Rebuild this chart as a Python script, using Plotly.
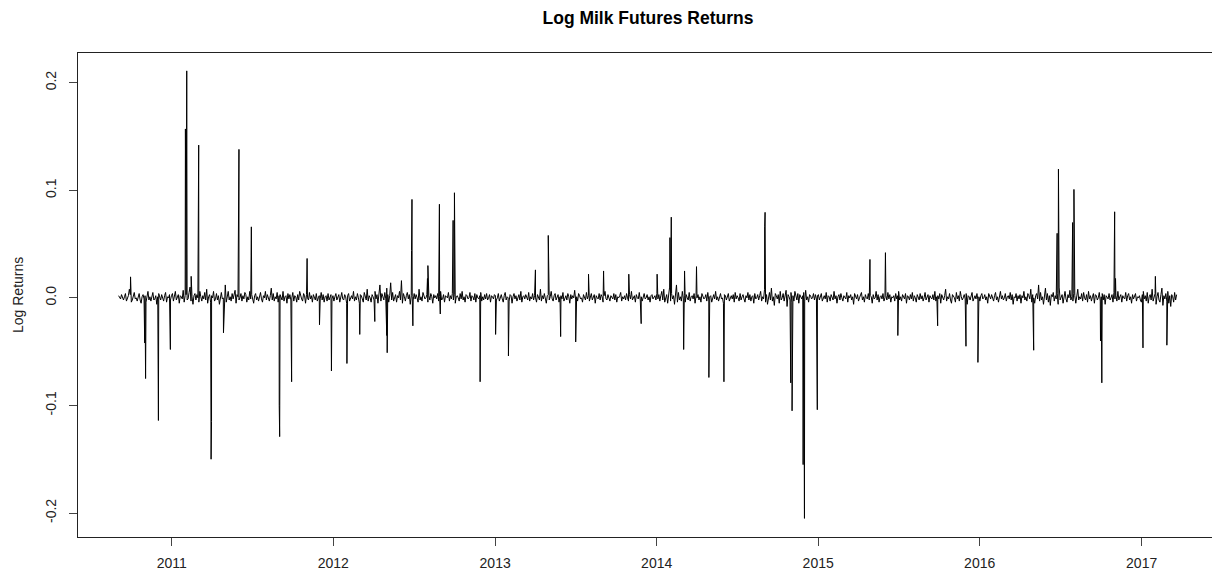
import pandas as pd
import plotly.graph_objects as go

# ---------------- data ----------------
title_text = "Log Milk Futures Returns"
y_title = "Log Returns"

series_start = "2010-09-03"
series_end = "2017-03-21"

# background day-to-day returns, in thousandths (estimated from the noise band)
noise_2010 = [2, 1, -1, 3, 0, -2, 1, 4, -3, -1, 2, 8, 3, -4, -2, 1, 5, -1, 0, -3, 2, 4, -2, -5, 1, 3, -1, 2,
              -4, 0, 6, -2, 1, -3, 3, 5, -2, -1, 2, -6, 1, 4, 0, -2, 3, -1, -3, 2, 5, -4, 1, 0, 3, -2, 2]
noise_2011 = [4, -3, 1, 6, -2, 0, 3, -5, 2, 1, -1, 7, -4, 2, 3, -2, -1, 5, 10, -3,
              1, -6, 2, 4, -2, 3, 0, -4, 6, 1, -3, 2, -1, 5, -2, 8, -5, 1, 3, -4,
              2, 0, 6, -3, -1, 4, -2, 2, -6, 3, 5, -1, 0, -3, 12, -4, 2, 6, -2, 1,
              -3, 4, -1, 2, 7, -5, 3, 1, -2, 0, 4, -3, 2, -1, 5, 3, -4, 1, -2, 6,
              -1, 3, 0, -5, 2, 4, -2, 1, -3, 3, 5, -1, -4, 2, 0, 6, -2, 3, -1, -3,
              2, 9, -2, 4, -3, 1, -1, 5, -4, 2, 3, 0, -2, 6, -3, 1, 2, -5, 4, -1,
              3, -2, 0, 5, -3, 2, 1, -4, 3, -2, 6, 1, -1, -3, 4, 2, -5, 3, 0, -2,
              5, -1, 2, -4, 3, 1, -2, 4, -3, 0, 2, -1, 5, -2, 3, -4, 1, 2, -3, 4,
              -2, 1, 3, -1, 2]
noise_2012 = [-3, 1, 4, -2, 0, 3, -4, 2, 5, -1, -2, 3, 1, -5, 2, 4, -3, 0, 2, -1,
              6, -3, 1, -2, 4, 0, -5, 3, 2, -1, -4, 5, 1, -2, 8, -3, 2, 0, -4, 3,
              1, -2, 6, -1, 3, -5, 2, 12, -3, 4, 1, -2, 5, -1, 9, 3, -4, 2, 14, -2,
              5, -3, 1, 3, -4, 2, 0, 6, -2, 16, -5, 4, 1, -3, 2, 5, -1, 3, -6, 2,
              1, -2, 4, -1, 3, 0, -4, 8, -2, 1, -3, 5, 2, -1, 0, 3, -4, 2, -2, 4,
              1, -5, 3, 0, 2, -1, 4, -3, 1, 6, -2, -1, 3, -4, 2, 1, 0, 5, -3, 2,
              -1, 4, -2, 3, -5, 1, 2, 0, -3, 4, -1, 6, -2, 1, -4, 3, 2, -1, 0, 5,
              -3, 2, 1, -2, 4, -4, 3, 0, -1, 2, 5, -3, 1, -2, 3, -1, 4, -2, 0, 3,
              -4, 2, 1, -1, 3]
noise_2013 = [2, -2, 0, 4, -3, 1, 3, -1, -4, 2, 5, -2, 1, 0, -3, 3, 2, -5, 1, 4,
              -1, 2, -3, 0, 3, -2, 6, -4, 1, 2, -1, 3, 0, -2, 5, -3, 1, -1, 4, -2,
              2, 0, -4, 3, 1, -2, 8, -3, 2, -1, 4, 0, -5, 2, 3, -2, 1, 6, -1, -3,
              2, 4, -2, 0, 3, -4, 1, 2, -1, 5, -3, 0, 2, -2, 4, 1, -5, 3, -1, 2,
              0, 7, -2, 1, -3, 4, 2, -1, 0, -4, 3, 1, -2, 5, -1, 2, -3, 0, 4, -2,
              1, 3, -5, 2, 0, -1, 4, -2, 3, 1, -4, 2, 6, -1, -2, 3, 0, -3, 2, 1,
              -1, 4, -2, 3, -4, 1, 0, 2, 5, -3, 1, -1, 2, -2, 4, 0, -3, 3, -1, 6,
              -2, 1, 2, -4, 3, 0, -1, 5, -2, 1, -3, 2, 4, -1, 0, 3, -2, 1, -4, 2,
              3, -1, 0, 2, -2]
noise_2014 = [4, -1, 3, -3, 2, 6, -2, 8, -4, 1, 3, -5, 2, 10, -3, 4, -1, 2, -6, 3,
              12, -4, 5, -2, 1, -3, 6, -1, 2, -4, 3, 0, -2, 5, -3, 1, 2, -1, 4, -5,
              2, 0, 3, -2, 1, -4, 4, 2, -1, 0, 3, -3, 5, -2, 1, 2, -4, 0, 3, -1,
              6, -2, 1, -3, 2, 4, -1, 0, -5, 3, 2, -2, 1, 4, -3, 0, 2, -1, 3, -4,
              5, -1, 2, 0, -3, 4, -2, 1, 3, -1, -4, 2, 0, 5, -2, 3, -3, 1, 2, -5,
              4, -1, 0, 3, -2, 2, 6, -3, 1, -1, 8, -4, 3, -6, 2, 5, -2, 9, -3, 1,
              -7, 4, 2, -1, 3, -5, 6, -2, 0, 4, -3, 2, 7, -8, 3, 1, -2, 5, -4, 2,
              -3, 6, 1, -2, 4, -5, 3, 0, -1, 2, 5, -3, 7, -2, 1, -4, 3, 2, -1, 0,
              4, -2, 3, -1, 2]
noise_2015 = [3, -2, 1, 4, -3, 0, 2, -1, 5, -4, 2, 1, -3, 3, 0, -2, 6, -1, 2, -5,
              1, 3, -2, 4, 0, -3, 2, 1, -1, 5, -4, 2, 0, 3, -2, 1, -6, 4, 2, -1,
              3, -3, 0, 2, 5, -2, 1, -4, 3, 0, -1, 4, -2, 2, 1, -5, 3, -1, 0, 6,
              -2, 3, -4, 1, 2, -1, 4, -3, 0, 2, -2, 5, -1, 3, -4, 1, 0, 2, -3, 4,
              -1, 2, 6, -2, 1, -3, 3, 0, -1, 4, -5, 2, 1, -2, 3, -1, 5, -3, 2, 0,
              -4, 3, 1, -2, 4, -1, 2, -3, 0, 5, -2, 1, 3, -4, 2, 0, -1, 3, -2, 6,
              -3, 1, 2, -1, 4, -5, 3, 0, -2, 2, 8, -3, 1, -1, 4, -2, -5, 3, 2, 0,
              -4, 5, -1, 2, -3, 6, 1, -2, 0, 3, -1, 4, -6, 2, 1, -2, 3, 5, -3, 0,
              2, -1, 4, -2, 1]
noise_2016 = [-3, 2, 4, -1, 0, 3, -2, 1, -5, 4, 2, -1, 3, 0, -3, 2, 5, -2, 1, -4,
              3, 6, -1, 2, -2, 0, 4, -3, 1, 2, -1, 5, -2, 3, -6, 1, 0, 4, -3, 2,
              -1, 3, -5, 2, 0, 6, -2, 1, -3, 4, 2, -1, 8, -4, 3, 0, -5, 2, 4, -1,
              12, -3, 5, -2, 1, -6, 3, 9, -2, 4, -4, 2, -7, 3, 1, 5, -3, 2, -1, 4,
              -6, 10, -2, 1, 3, -5, 2, 6, -1, -4, 3, 0, 7, -2, 1, -3, 4, 2, -5, 3,
              8, -2, 1, -1, 4, -3, 5, 0, -2, 3, -4, 6, -1, 2, -3, 1, 4, -5, 3, 2,
              -2, 0, 5, -3, 1, 4, -2, 3, -6, 2, 1, -1, 4, -2, 0, 3, -4, 5, -1, 2,
              -3, 6, -2, 1, 3, -4, 2, 0, -1, 5, -3, 2, 4, -2, 1, -5, 3, -1, 2, 4,
              -3, 1, 0, 2, -2]
noise_2017 = [-4, 3, 6, -1, 2, -3, 5, -5, 1, 3, -2, 8, -3, 2, 4, -6, 1, 5, -2, -4,
              3, 9, -7, 2, -1, 4, -3, 6, -5, 2, -8, 3, 1, -4, 5, -2, 3]

# large single-day moves
spike_dates = [
    "2010-09-30", "2010-11-01", "2010-11-03", "2010-12-01", "2010-12-02", "2010-12-29",
    "2011-02-01", "2011-02-04", "2011-02-14", "2011-03-02", "2011-03-03", "2011-03-31",
    "2011-04-01", "2011-04-28", "2011-06-01", "2011-06-02", "2011-06-29", "2011-06-30",
    "2011-09-01", "2011-09-02", "2011-09-29", "2011-11-02", "2011-11-03", "2011-12-01",
    "2011-12-28", "2012-02-01", "2012-03-01", "2012-04-04", "2012-05-01", "2012-05-02",
    "2012-06-26", "2012-06-27", "2012-06-29", "2012-08-01", "2012-08-02", "2012-08-28",
    "2012-08-30", "2012-09-28", "2012-10-01", "2012-11-28", "2013-01-02", "2013-01-31",
    "2013-04-02", "2013-05-01", "2013-05-29", "2013-07-02", "2013-07-31", "2013-09-03",
    "2013-10-30", "2013-11-27", "2014-01-02", "2014-01-31", "2014-02-03", "2014-03-03",
    "2014-03-05", "2014-04-01", "2014-04-29", "2014-06-02", "2014-09-02", "2014-09-03",
    "2014-10-31", "2014-11-03", "2014-11-28", "2014-12-01", "2014-12-30", "2015-04-28",
    "2015-06-02", "2015-06-30", "2015-09-28", "2015-12-01", "2015-12-28", "2016-05-02",
    "2016-06-24", "2016-06-27", "2016-07-29", "2016-08-01", "2016-09-30", "2016-10-03",
    "2016-11-01", "2016-11-02", "2016-11-03", "2017-01-04", "2017-02-01", "2017-02-27",
]
spike_values = [
    0.0195, -0.042, -0.075, -0.065, -0.114, -0.048,
    0.157, 0.211, 0.020, 0.105, 0.142, -0.150,
    -0.115, -0.0325, 0.103, 0.138, 0.030, 0.066,
    -0.100, -0.129, -0.078, 0.020, 0.0366, -0.025,
    -0.068, -0.061, -0.034, -0.022, -0.035, -0.051,
    0.044, 0.0915, -0.026, 0.018, 0.030, 0.087,
    -0.015, 0.072, 0.0977, -0.078, -0.034, -0.054,
    0.026, 0.058, -0.036, -0.041, 0.022, 0.025,
    0.022, -0.024, 0.022, 0.056, 0.075, -0.048,
    0.025, 0.029, -0.074, -0.078, 0.066, 0.0795,
    -0.079, -0.105, -0.155, -0.205, -0.104, 0.0357,
    0.042, -0.035, -0.026, -0.045, -0.060, -0.0487,
    0.060, 0.1197, 0.070, 0.1008, -0.040, -0.079,
    0.080, 0.040, 0.018, -0.0465, 0.020, -0.044,
]

year_ticks = ["2011", "2012", "2013", "2014", "2015", "2016", "2017"]
y_tick_vals = [-0.2, -0.1, 0.0, 0.1, 0.2]
y_tick_text = ["-0.2", "-0.1", "0.0", "0.1", "0.2"]

# ---------------- build series ----------------
noise_milli = (noise_2010 + noise_2011 + noise_2012 + noise_2013
               + noise_2014 + noise_2015 + noise_2016 + noise_2017)
noise_dates = pd.date_range(series_start, series_end, periods=len(noise_milli))
noise_df = pd.DataFrame({"date": noise_dates, "ret": [v / 1000.0 for v in noise_milli]})
spike_df = pd.DataFrame({"date": pd.to_datetime(spike_dates), "ret": spike_values})
df = pd.concat([noise_df, spike_df]).sort_values("date").reset_index(drop=True)

fig = go.Figure()
fig.add_trace(go.Scatter(
    x=df["date"], y=df["ret"], mode="lines",
    line=dict(color="black", width=1),
    showlegend=False, hoverinfo="skip",
))

axis_font = dict(family="Liberation Sans, Arial, sans-serif", size=14, color="#222")

fig.update_layout(
    width=1212, height=571,
    margin=dict(l=78, r=0, t=53, b=34),
    paper_bgcolor="white", plot_bgcolor="white",
    title=dict(
        text="<b>" + title_text + "</b>",
        x=648 / 1212, xref="container", xanchor="center",
        y=1 - 18 / 571, yref="container", yanchor="middle",
        font=dict(family="Liberation Sans, Arial, sans-serif", size=17.5, color="black"),
    ),
    xaxis=dict(
        type="date",
        range=["2010-06-03 06:00", "2017-06-09"],
        tickvals=[y + "-01-01" for y in year_ticks],
        ticktext=year_ticks,
        ticks="outside", ticklen=8, tickwidth=1, tickcolor="#444",
        ticklabelstandoff=5,
        showline=True, linecolor="#222", linewidth=1, mirror=True,
        showgrid=False, zeroline=False,
        tickfont=axis_font,
    ),
    yaxis=dict(
        range=[-0.2223, 0.2276],
        tickvals=y_tick_vals, ticktext=y_tick_text,
        tickangle=-90,
        ticks="outside", ticklen=8, tickwidth=1, tickcolor="#444",
        ticklabelstandoff=7,
        showline=True, linecolor="#222", linewidth=1,
        showgrid=False, zeroline=False,
        tickfont=axis_font,
    ),
    annotations=[dict(
        text=y_title, textangle=-90,
        xref="paper", x=0, xanchor="center", xshift=-60,
        yref="paper", y=0.5, yanchor="middle",
        showarrow=False,
        font=dict(family="Liberation Sans, Arial, sans-serif", size=14, color="#222"),
    )],
)

fig.write_html(
    "out.html",
    config={"displayModeBar": False},
    post_script="document.body.style.margin='0';document.body.style.overflow='hidden';",
)
